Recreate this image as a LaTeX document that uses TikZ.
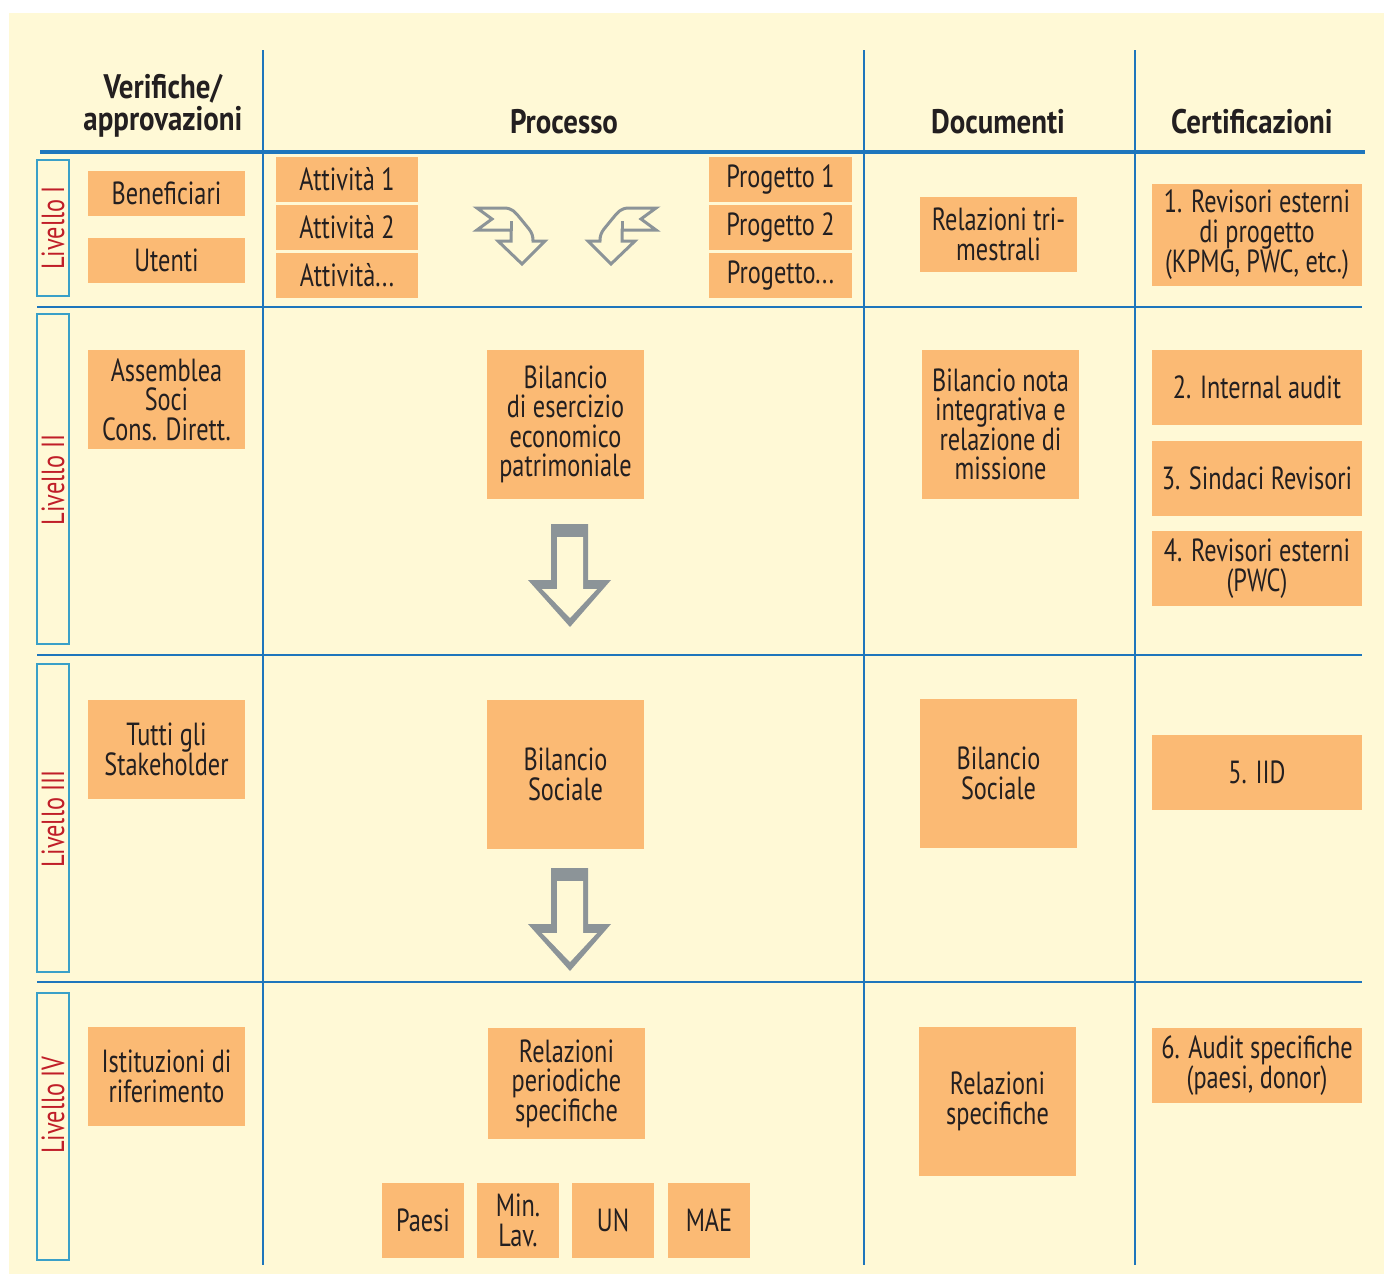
\documentclass[tikz,border=0pt]{standalone}
\usepackage{fontspec}
\setmainfont{PT Sans}[FakeStretch=0.76]
\newfontfamily\headfamily{PT Sans}[FakeStretch=0.85]
\definecolor{cream}{RGB}{255,249,214}
\definecolor{orangebox}{RGB}{251,186,116}
\definecolor{ruleblue}{RGB}{30,118,188}
\definecolor{lvlblue}{RGB}{58,160,200}
\definecolor{lvlred}{RGB}{192,30,40}
\definecolor{inkdark}{RGB}{35,31,32}
\definecolor{arrowgrey}{RGB}{140,148,152}
\newcommand\bodyfont{\fontsize{32}{29.5}\selectfont}
\newcommand\headfont{\headfamily\fontsize{34}{32}\selectfont\bfseries}
% orange box given by its corners (pixel grid, y downwards)
\newcommand\obox[6]{\node[obox, minimum width={#4-#2}, minimum height={#5-#3}] (#1) at ({(#2+#4)/2},{(#3+#5)/2}) {#6};}
\tikzset{
  obox/.style={fill=orangebox, inner sep=0pt, align=center, text=inkdark, font=\bodyfont},
  head/.style={align=center, text=inkdark, font=\headfont},
  lvlbox/.style={draw=lvlblue, line width=1.6pt, inner sep=0pt},
  lvltext/.style={text=lvlred, font=\bodyfont, rotate=90, inner sep=0pt},
  thinrule/.style={draw=ruleblue, line width=1.6pt},
  thickrule/.style={draw=ruleblue, line width=3.2pt},
  bendarrow/.style={draw=arrowgrey, line width=3pt, fill=cream, line join=miter},
}
\begin{document}
\begin{tikzpicture}[x=1pt,y=-1pt]
\useasboundingbox (0,0) rectangle (1384,1274);
\fill[white] (0,0) rectangle (1384,1274);
\fill[cream] (9,13) rectangle (1384,1274);

% table rules
\draw[thickrule] (40,152) -- (1365,152);
\draw[thinrule] (37,307) -- (1362,307);
\draw[thinrule] (37,655) -- (1362,655);
\draw[thinrule] (37,982) -- (1362,982);
\draw[thinrule] (263,50) -- (263,1265);
\draw[thinrule] (864,50) -- (864,1265);
\draw[thinrule] (1135,50) -- (1135,1265);

% column headings
\node[head] (hverif) at (163,106) {Verifiche/\\approvazioni};
\node[head] (hproc) at (564,122) {Processo};
\node[head] (hdoc) at (998,122) {Documenti};
\node[head] (hcert) at (1252,122) {Certificazioni};

% level tags
\node[lvlbox, minimum width=32, minimum height=136] (lv1) at (53,228) {};
\node[lvltext] (lv1t) at (53,228) {Livello I};
\node[lvlbox, minimum width=32, minimum height=330] (lv2) at (53,479) {};
\node[lvltext] (lv2t) at (53,480) {Livello II};
\node[lvlbox, minimum width=32, minimum height=308] (lv3) at (53,818) {};
\node[lvltext] (lv3t) at (53,819) {Livello III};
\node[lvlbox, minimum width=32, minimum height=267] (lv4) at (53,1126.5) {};
\node[lvltext] (lv4t) at (53,1105) {Livello IV};

% Verifiche / approvazioni
\obox{benef}{88}{171}{245}{216}{Beneficiari}
\obox{utenti}{88}{238}{245}{283}{Utenti}
\obox{assem}{88}{350}{245}{449}{Assemblea\\Soci\\Cons. Dirett.}
\obox{stake}{88}{700}{245}{799}{Tutti gli\\Stakeholder}
\obox{istit}{88}{1027}{245}{1126}{Istituzioni di\\riferimento}

% Processo
\obox{att1}{276}{157}{418}{202}{Attività 1}
\obox{att2}{276}{205}{418}{250}{Attività 2}
\obox{att3}{276}{253}{418}{298}{Attività...}
\obox{prog1}{709}{157}{852}{202}{Progetto 1}
\obox{prog2}{709}{205}{852}{250}{Progetto 2}
\obox{prog3}{709}{253}{852}{298}{Progetto...}
\obox{bilese}{487}{350}{644}{499}{Bilancio\\di esercizio\\economico\\patrimoniale}
\obox{bilsoc}{487}{700}{644}{849}{Bilancio\\Sociale}
\obox{relper}{488}{1028}{645}{1139}{Relazioni\\periodiche\\specifiche}
\obox{paesi}{382}{1183}{464}{1258}{Paesi}
\obox{minlav}{477}{1183}{559}{1258}{Min.\\Lav.}
\obox{un}{572}{1183}{654}{1258}{UN}
\obox{mae}{668}{1183}{750}{1258}{MAE}

% Documenti
\obox{reltri}{920}{197}{1077}{272}{Relazioni tri-\\mestrali}
\obox{bilnota}{922}{350}{1079}{499}{Bilancio nota\\integrativa e\\relazione di\\missione}
\obox{docsoc}{920}{699}{1077}{848}{Bilancio\\Sociale}
\obox{relspec}{919}{1027}{1076}{1176}{Relazioni\\specifiche}

% Certificazioni
\obox{cert1}{1152}{184}{1362}{286}{1. Revisori esterni\\di progetto\\(KPMG, PWC, etc.)}
\obox{cert2}{1152}{350}{1362}{425}{2. Internal audit}
\obox{cert3}{1152}{441}{1362}{516}{3. Sindaci Revisori}
\obox{cert4}{1152}{531}{1362}{606}{4. Revisori esterni\\(PWC)}
\obox{cert5}{1152}{735}{1362}{810}{5. IID}
\obox{cert6}{1152}{1028}{1362}{1103}{6. Audit specifiche\\(paesi, donor)}

% bent arrows between activities and projects
\draw[bendarrow] (477,208) -- (504,208) .. controls (512,208) and (515,212) .. (520,218)
  -- (529,229) .. controls (532,233) and (533,236) .. (533,241) -- (545,241) -- (522,264)
  -- (498,241) -- (511,241) -- (511,230) -- (477,230) -- (492,219) -- cycle;
\draw[draw=arrowgrey, line width=3pt] (511,231) -- (511,221);
\draw[bendarrow] (656,208) -- (629,208) .. controls (621,208) and (618,212) .. (613,218)
  -- (604,229) .. controls (601,233) and (600,236) .. (600,241) -- (588,241) -- (611,264)
  -- (635,241) -- (622,241) -- (622,230) -- (656,230) -- (641,219) -- cycle;
\draw[draw=arrowgrey, line width=3pt] (622,231) -- (622,221);

% hollow down arrows between levels
\foreach \dy/\nm in {0/downA, 344/downB}{
  \begin{scope}[yshift=-\dy pt]
    \fill[arrowgrey] (551,524) -- (588,524) -- (588,580) -- (611,580) -- (570,627)
      -- (528,580) -- (551,580) -- cycle;
    \fill[cream] (557,537) -- (583,537) -- (583,589) -- (597,589) -- (570,618)
      -- (542,589) -- (557,589) -- cycle;
  \end{scope}
}
\end{tikzpicture}
\end{document}
